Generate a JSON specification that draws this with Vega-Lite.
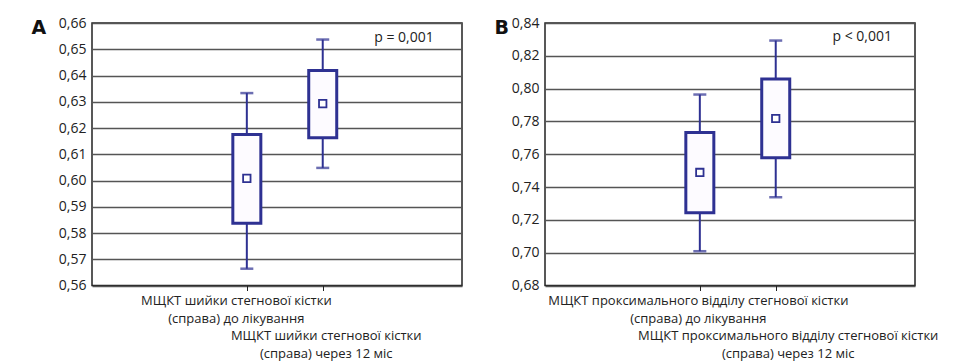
{
  "$schema": "https://vega.github.io/schema/vega-lite/v6.json",
  "padding": {"left": 30, "top": 15, "right": 0, "bottom": 0},
  "background": "white",
  "datasets": {
    "a": [
      {"g": 0, "wlo": 0.5664, "q1": 0.5837, "mean": 0.6008, "q3": 0.6175, "whi": 0.6333},
      {"g": 1, "wlo": 0.6048, "q1": 0.6163, "mean": 0.6293, "q3": 0.6419, "whi": 0.6537}
    ],
    "b": [
      {"g": 0, "wlo": 0.7009, "q1": 0.7243, "mean": 0.7489, "q3": 0.7733, "whi": 0.7964},
      {"g": 1, "wlo": 0.7338, "q1": 0.7578, "mean": 0.7818, "q3": 0.8058, "whi": 0.8293}
    ],
    "pa": [{"p": "p = 0,001"}],
    "pb": [{"p": "p < 0,001"}]
  },
  "config": {
    "font": "Open Sans",
    "view": {"stroke": "#222", "strokeWidth": 1.5},
    "axis": {
      "labelFont": "Open Sans",
      "labelColor": "#222",
      "gridColor": "#555",
      "gridWidth": 1.5,
      "gridOpacity": 1,
      "domain": false,
      "labelLimit": 0,
      "labelOverlap": false
    },
    "axisY": {
      "labelFontSize": 14,
      "labelExpr": "replace(format(datum.value, '.2f'), '.', ',')",
      "ticks": false,
      "labelPadding": 6,
      "titleAngle": 0, "titleFontSize": 19, "titleFontWeight": "bold", "titleFont": "DejaVu Sans",
      "titleColor": "#111", "titleY": 10, "titleAlign": "left", "titleBaseline": "alphabetic"
    },
    "axisX": {
      "grid": false,
      "tickSize": 5, "tickColor": "#222", "tickWidth": 1,
      "labelLineHeight": 17.5, "labelBound": false, "labelFlush": false,
      "labelFontSize": 13,
      "labelPadding": {"condition": {"test": "datum.value == 1", "value": 39}, "value": 4}
    },
    "concat": {"spacing": 30}
  },
  "hconcat": [
    {
      "width": 370,
      "height": 262.5,
      "layer": [
        {
          "data": {"name": "a"},
          "mark": {"type": "rule", "color": "#2e3192", "strokeWidth": 2},
          "encoding": {
            "x": {"field": "g", "type": "quantitative", "scale": {"domain": [-1.974, 2.769], "nice": false, "zero": false},
              "axis": {"values": [0, 1], "title": null, "labelOffset": {"condition": {"test": "datum.value == 0", "value": -11}, "value": 3},
                "labelExpr": "datum.value == 0 ? ['МЩКТ шийки стегнової кістки', '(справа) до лікування'] : ['МЩКТ шийки стегнової кістки', '(справа) через 12 міс']"}},
            "y": {"field": "wlo", "type": "quantitative", "scale": {"domain": [0.56, 0.66], "nice": false, "zero": false},
              "axis": {"values": [0.56, 0.57, 0.58, 0.59, 0.6, 0.61, 0.62, 0.63, 0.64, 0.65, 0.66], "title": "A", "titleX": -61}},
            "y2": {"field": "whi"}
          }
        },
        {
          "data": {"name": "a"},
          "mark": {"type": "tick", "color": "#2e3192", "orient": "horizontal", "size": 13, "thickness": 2.5},
          "encoding": {
            "x": {"field": "g", "type": "quantitative", "scale": {"domain": [-1.974, 2.769], "nice": false, "zero": false},
              "axis": {"values": [0, 1], "title": null, "labelOffset": {"condition": {"test": "datum.value == 0", "value": -11}, "value": 3},
                "labelExpr": "datum.value == 0 ? ['МЩКТ шийки стегнової кістки', '(справа) до лікування'] : ['МЩКТ шийки стегнової кістки', '(справа) через 12 міс']"}},
            "y": {"field": "wlo", "type": "quantitative", "scale": {"domain": [0.56, 0.66], "nice": false, "zero": false},
              "axis": {"values": [0.56, 0.57, 0.58, 0.59, 0.6, 0.61, 0.62, 0.63, 0.64, 0.65, 0.66], "title": "A", "titleX": -61}}
          }
        },
        {
          "data": {"name": "a"},
          "mark": {"type": "tick", "color": "#2e3192", "orient": "horizontal", "size": 13, "thickness": 2.5},
          "encoding": {
            "x": {"field": "g", "type": "quantitative", "scale": {"domain": [-1.974, 2.769], "nice": false, "zero": false},
              "axis": {"values": [0, 1], "title": null, "labelOffset": {"condition": {"test": "datum.value == 0", "value": -11}, "value": 3},
                "labelExpr": "datum.value == 0 ? ['МЩКТ шийки стегнової кістки', '(справа) до лікування'] : ['МЩКТ шийки стегнової кістки', '(справа) через 12 міс']"}},
            "y": {"field": "whi", "type": "quantitative", "scale": {"domain": [0.56, 0.66], "nice": false, "zero": false},
              "axis": {"values": [0.56, 0.57, 0.58, 0.59, 0.6, 0.61, 0.62, 0.63, 0.64, 0.65, 0.66], "title": "A", "titleX": -61}}
          }
        },
        {
          "data": {"name": "a"},
          "mark": {"type": "bar", "orient": "vertical", "size": 28, "fill": "#fdfbff", "stroke": "#2e3192", "strokeWidth": 3},
          "encoding": {
            "x": {"field": "g", "type": "quantitative", "scale": {"domain": [-1.974, 2.769], "nice": false, "zero": false},
              "axis": {"values": [0, 1], "title": null, "labelOffset": {"condition": {"test": "datum.value == 0", "value": -11}, "value": 3},
                "labelExpr": "datum.value == 0 ? ['МЩКТ шийки стегнової кістки', '(справа) до лікування'] : ['МЩКТ шийки стегнової кістки', '(справа) через 12 міс']"}},
            "y": {"field": "q1", "type": "quantitative", "scale": {"domain": [0.56, 0.66], "nice": false, "zero": false},
              "axis": {"values": [0.56, 0.57, 0.58, 0.59, 0.6, 0.61, 0.62, 0.63, 0.64, 0.65, 0.66], "title": "A", "titleX": -61}},
            "y2": {"field": "q3"}
          }
        },
        {
          "data": {"name": "a"},
          "mark": {"type": "point", "shape": "square", "size": 55, "filled": false, "fill": "white", "fillOpacity": 1, "stroke": "#2e3192", "strokeWidth": 1.8, "opacity": 1},
          "encoding": {
            "x": {"field": "g", "type": "quantitative", "scale": {"domain": [-1.974, 2.769], "nice": false, "zero": false},
              "axis": {"values": [0, 1], "title": null, "labelOffset": {"condition": {"test": "datum.value == 0", "value": -11}, "value": 3},
                "labelExpr": "datum.value == 0 ? ['МЩКТ шийки стегнової кістки', '(справа) до лікування'] : ['МЩКТ шийки стегнової кістки', '(справа) через 12 міс']"}},
            "y": {"field": "mean", "type": "quantitative", "scale": {"domain": [0.56, 0.66], "nice": false, "zero": false},
              "axis": {"values": [0.56, 0.57, 0.58, 0.59, 0.6, 0.61, 0.62, 0.63, 0.64, 0.65, 0.66], "title": "A", "titleX": -61}}
          }
        },
        {
          "data": {"name": "pa"},
          "mark": {"type": "text", "fontSize": 14, "color": "#222", "align": "center", "baseline": "middle"},
          "encoding": {
            "x": {"datum": 2.07, "type": "quantitative", "scale": {"domain": [-1.974, 2.769], "nice": false, "zero": false},
              "axis": {"values": [0, 1], "title": null, "labelOffset": {"condition": {"test": "datum.value == 0", "value": -11}, "value": 3},
                "labelExpr": "datum.value == 0 ? ['МЩКТ шийки стегнової кістки', '(справа) до лікування'] : ['МЩКТ шийки стегнової кістки', '(справа) через 12 міс']"}},
            "y": {"datum": 0.6541, "type": "quantitative", "scale": {"domain": [0.56, 0.66], "nice": false, "zero": false},
              "axis": {"values": [0.56, 0.57, 0.58, 0.59, 0.6, 0.61, 0.62, 0.63, 0.64, 0.65, 0.66], "title": "A", "titleX": -61}},
            "text": {"field": "p"}
          }
        }
      ]
    },
    {
      "width": 370,
      "height": 262.5,
      "layer": [
        {
          "data": {"name": "b"},
          "mark": {"type": "rule", "color": "#2e3192", "strokeWidth": 2},
          "encoding": {
            "x": {"field": "g", "type": "quantitative", "scale": {"domain": [-1.974, 2.769], "nice": false, "zero": false},
              "axis": {"values": [0, 1], "title": null, "labelOffset": {"condition": {"test": "datum.value == 0", "value": -2}, "value": 12},
                "labelExpr": "datum.value == 0 ? ['МЩКТ проксимального відділу стегнової кістки', '(справа) до лікування'] : ['МЩКТ проксимального відділу стегнової кістки', '(справа) через 12 міс']"}},
            "y": {"field": "wlo", "type": "quantitative", "scale": {"domain": [0.68, 0.84], "nice": false, "zero": false},
              "axis": {"values": [0.68, 0.7, 0.72, 0.74, 0.76, 0.78, 0.8, 0.82, 0.84], "title": "B", "titleX": -51}},
            "y2": {"field": "whi"}
          }
        },
        {
          "data": {"name": "b"},
          "mark": {"type": "tick", "color": "#2e3192", "orient": "horizontal", "size": 13, "thickness": 2.5},
          "encoding": {
            "x": {"field": "g", "type": "quantitative", "scale": {"domain": [-1.974, 2.769], "nice": false, "zero": false},
              "axis": {"values": [0, 1], "title": null, "labelOffset": {"condition": {"test": "datum.value == 0", "value": -2}, "value": 12},
                "labelExpr": "datum.value == 0 ? ['МЩКТ проксимального відділу стегнової кістки', '(справа) до лікування'] : ['МЩКТ проксимального відділу стегнової кістки', '(справа) через 12 міс']"}},
            "y": {"field": "wlo", "type": "quantitative", "scale": {"domain": [0.68, 0.84], "nice": false, "zero": false},
              "axis": {"values": [0.68, 0.7, 0.72, 0.74, 0.76, 0.78, 0.8, 0.82, 0.84], "title": "B", "titleX": -51}}
          }
        },
        {
          "data": {"name": "b"},
          "mark": {"type": "tick", "color": "#2e3192", "orient": "horizontal", "size": 13, "thickness": 2.5},
          "encoding": {
            "x": {"field": "g", "type": "quantitative", "scale": {"domain": [-1.974, 2.769], "nice": false, "zero": false},
              "axis": {"values": [0, 1], "title": null, "labelOffset": {"condition": {"test": "datum.value == 0", "value": -2}, "value": 12},
                "labelExpr": "datum.value == 0 ? ['МЩКТ проксимального відділу стегнової кістки', '(справа) до лікування'] : ['МЩКТ проксимального відділу стегнової кістки', '(справа) через 12 міс']"}},
            "y": {"field": "whi", "type": "quantitative", "scale": {"domain": [0.68, 0.84], "nice": false, "zero": false},
              "axis": {"values": [0.68, 0.7, 0.72, 0.74, 0.76, 0.78, 0.8, 0.82, 0.84], "title": "B", "titleX": -51}}
          }
        },
        {
          "data": {"name": "b"},
          "mark": {"type": "bar", "orient": "vertical", "size": 28, "fill": "#fdfbff", "stroke": "#2e3192", "strokeWidth": 3},
          "encoding": {
            "x": {"field": "g", "type": "quantitative", "scale": {"domain": [-1.974, 2.769], "nice": false, "zero": false},
              "axis": {"values": [0, 1], "title": null, "labelOffset": {"condition": {"test": "datum.value == 0", "value": -2}, "value": 12},
                "labelExpr": "datum.value == 0 ? ['МЩКТ проксимального відділу стегнової кістки', '(справа) до лікування'] : ['МЩКТ проксимального відділу стегнової кістки', '(справа) через 12 міс']"}},
            "y": {"field": "q1", "type": "quantitative", "scale": {"domain": [0.68, 0.84], "nice": false, "zero": false},
              "axis": {"values": [0.68, 0.7, 0.72, 0.74, 0.76, 0.78, 0.8, 0.82, 0.84], "title": "B", "titleX": -51}},
            "y2": {"field": "q3"}
          }
        },
        {
          "data": {"name": "b"},
          "mark": {"type": "point", "shape": "square", "size": 55, "filled": false, "fill": "white", "fillOpacity": 1, "stroke": "#2e3192", "strokeWidth": 1.8, "opacity": 1},
          "encoding": {
            "x": {"field": "g", "type": "quantitative", "scale": {"domain": [-1.974, 2.769], "nice": false, "zero": false},
              "axis": {"values": [0, 1], "title": null, "labelOffset": {"condition": {"test": "datum.value == 0", "value": -2}, "value": 12},
                "labelExpr": "datum.value == 0 ? ['МЩКТ проксимального відділу стегнової кістки', '(справа) до лікування'] : ['МЩКТ проксимального відділу стегнової кістки', '(справа) через 12 міс']"}},
            "y": {"field": "mean", "type": "quantitative", "scale": {"domain": [0.68, 0.84], "nice": false, "zero": false},
              "axis": {"values": [0.68, 0.7, 0.72, 0.74, 0.76, 0.78, 0.8, 0.82, 0.84], "title": "B", "titleX": -51}}
          }
        },
        {
          "data": {"name": "pb"},
          "mark": {"type": "text", "fontSize": 14, "color": "#222", "align": "center", "baseline": "middle"},
          "encoding": {
            "x": {"datum": 2.139, "type": "quantitative", "scale": {"domain": [-1.974, 2.769], "nice": false, "zero": false},
              "axis": {"values": [0, 1], "title": null, "labelOffset": {"condition": {"test": "datum.value == 0", "value": -2}, "value": 12},
                "labelExpr": "datum.value == 0 ? ['МЩКТ проксимального відділу стегнової кістки', '(справа) до лікування'] : ['МЩКТ проксимального відділу стегнової кістки', '(справа) через 12 міс']"}},
            "y": {"datum": 0.8312, "type": "quantitative", "scale": {"domain": [0.68, 0.84], "nice": false, "zero": false},
              "axis": {"values": [0.68, 0.7, 0.72, 0.74, 0.76, 0.78, 0.8, 0.82, 0.84], "title": "B", "titleX": -51}},
            "text": {"field": "p"}
          }
        }
      ]
    }
  ]
}
